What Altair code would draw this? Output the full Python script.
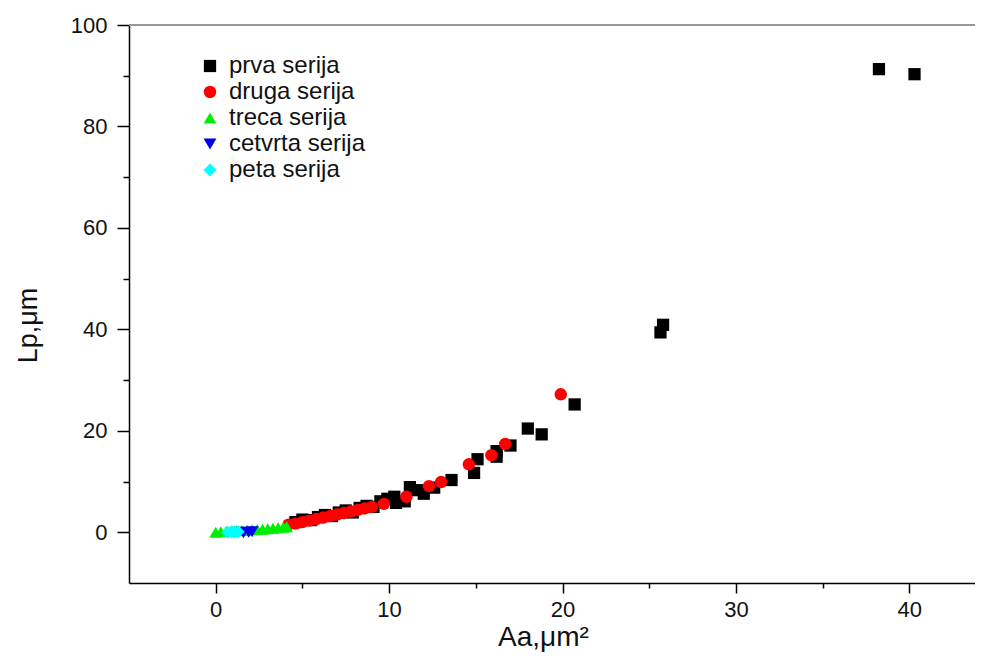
import altair as alt
import pandas as pd

series_names = ["prva serija", "druga serija", "treca serija", "cetvrta serija", "peta serija"]
series_colors = ["#000000", "#ff0000", "#00ee00", "#0000ee", "#00ffff"]
series_shapes = ["square", "circle", "triangle-up", "triangle-down", "diamond"]
series_sizes = [150, 170, 230, 210, 230]

prva_x = [4.6, 5.0, 5.5, 5.9, 6.3, 6.7, 7.1, 7.5, 7.9, 8.3, 8.7, 9.1, 9.5, 9.9, 10.3, 10.4, 10.9,
          11.2, 11.6, 12.0, 12.6, 13.6, 14.9, 15.1, 16.2, 16.2, 17.0, 18.0, 18.8, 20.7, 25.65, 25.8,
          38.25, 40.3]
prva_y = [2.0, 2.5, 2.4, 3.0, 3.4, 3.2, 3.9, 4.3, 3.9, 4.8, 5.2, 5.0, 6.1, 6.6, 7.0, 5.8, 6.1,
          8.9, 8.3, 7.6, 8.8, 10.3, 11.7, 14.4, 14.9, 16.0, 17.1, 20.45, 19.3, 25.2, 39.4, 40.9,
          91.3, 90.3]

druga_x = [4.2, 4.6, 5.0, 5.4, 5.8, 6.2, 6.6, 7.0, 7.4, 7.8, 8.2, 8.6, 9.0, 9.7, 11.0, 12.3, 13.0,
           14.6, 15.9, 16.7, 19.9]
druga_y = [1.5, 1.7, 2.0, 2.3, 2.6, 2.9, 3.2, 3.5, 3.8, 4.1, 4.4, 4.7, 5.0, 5.6, 7.0, 9.1, 9.9,
           13.4, 15.2, 17.4, 27.2]

treca_x = [0.0, 0.3, 0.6, 0.9, 1.2, 1.5, 1.8, 2.1, 2.4, 2.7, 3.0, 3.3, 3.6, 3.9, 4.1]
treca_y = [0.0, 0.1, 0.15, 0.2, 0.3, 0.35, 0.4, 0.5, 0.55, 0.6, 0.7, 0.8, 0.9, 1.0, 1.1]

cetvrta_x = [1.3, 1.6, 1.9, 2.1]
cetvrta_y = [0.0, -0.1, 0.0, 0.1]

peta_x = [0.7, 0.9, 1.1, 1.3]
peta_y = [0.0, 0.1, 0.0, 0.1]

x_ticks = [0, 5, 10, 15, 20, 25, 30, 35, 40]
y_ticks = [0, 10, 20, 30, 40, 50, 60, 70, 80, 90, 100]

rows = []
for name, xs, ys in zip(series_names,
                        [prva_x, druga_x, treca_x, cetvrta_x, peta_x],
                        [prva_y, druga_y, treca_y, cetvrta_y, peta_y]):
    for xv, yv in zip(xs, ys):
        rows.append({"series": name, "Aa": xv, "Lp": yv})
df = pd.DataFrame(rows)

FONT = "Liberation Sans"

PLOT_W = 846
x_scale = alt.Scale(domain=[-5, -5 + PLOT_W / 17.34], nice=False, zero=False)
y_scale = alt.Scale(domain=[-10, 100], nice=False, zero=False)

legend = alt.Legend(orient="none", legendX=69, legendY=29, title=None,
                    labelFont=FONT, labelFontSize=24, labelColor="#111",
                    rowPadding=2, padding=0, labelOffset=7, symbolStrokeWidth=0)

points = alt.Chart(df).mark_point(filled=True, opacity=1, strokeWidth=0).encode(
    x=alt.X("Aa:Q", scale=x_scale,
            axis=alt.Axis(values=x_ticks, title="Aa,\u03bcm\u00b2",
                          labelExpr="datum.value % 10 == 0 ? datum.label : ''",
                          tickSize={"condition": {"test": "datum.value % 10 === 0", "value": 10}, "value": 5},
                          labelPadding=6, titleX=414, titleY=40, titleBaseline="top",
                          titleFontSize=28)),
    y=alt.Y("Lp:Q", scale=y_scale,
            axis=alt.Axis(values=y_ticks, title="Lp,\u03bcm",
                          labelExpr="datum.value % 20 == 0 ? datum.label : ''",
                          tickSize={"condition": {"test": "datum.value % 20 === 0", "value": 12}, "value": 6},
                          labelPadding=10, titleX=-87, titleY=300, titleAngle=-90,
                          titleBaseline="bottom", titleAlign="center", titleFontSize=27)),
    color=alt.Color("series:N", scale=alt.Scale(domain=series_names, range=series_colors),
                    legend=legend),
    shape=alt.Shape("series:N", scale=alt.Scale(domain=series_names, range=series_shapes),
                    legend=legend),
    size=alt.Size("series:N", scale=alt.Scale(domain=series_names, range=series_sizes),
                  legend=legend),
)

top_rule = alt.Chart(df).mark_rule(color="#999999", strokeWidth=1.5).encode(
    y=alt.datum(100, scale=y_scale),
    x=alt.value(0), x2=alt.value(PLOT_W),
)

chart = alt.layer(top_rule, points).properties(
    width=PLOT_W, height=558,
    autosize=alt.AutoSizeParams(type="none"),
    padding={"left": 121, "top": 17, "right": 0, "bottom": 74},
).configure_view(stroke=None).configure_axis(
    grid=False, domainColor="#000", domainWidth=1.5, tickColor="#000", tickWidth=1.5,
    labelFont=FONT, labelFontSize=22, labelColor="#111",
    titleFont=FONT, titleFontWeight="normal", titleColor="#111",
)

chart.save("out.html", embed_options={"renderer": "svg", "actions": False})
